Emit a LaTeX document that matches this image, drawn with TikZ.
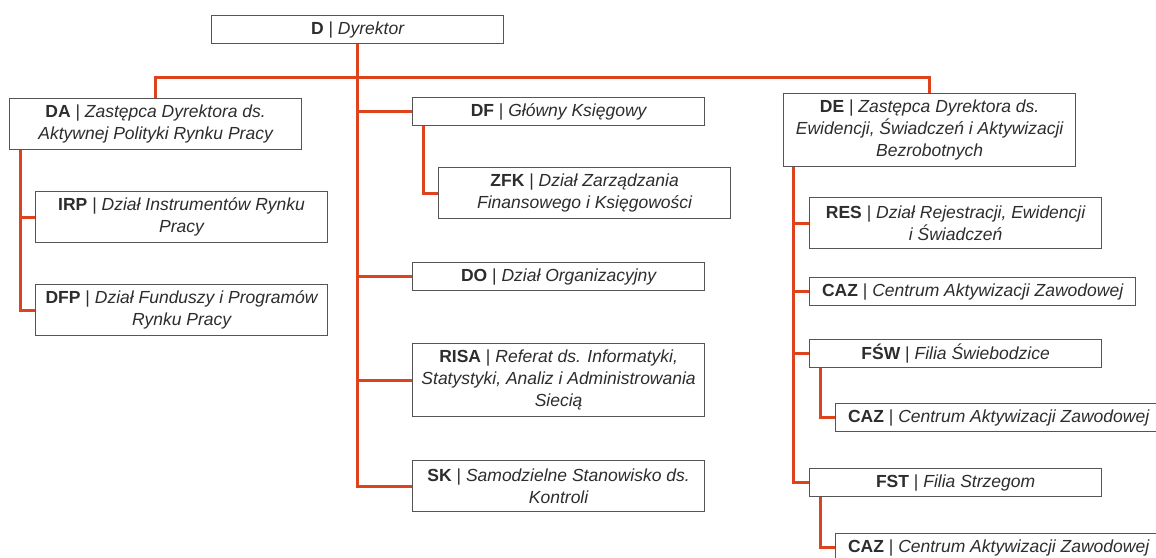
\documentclass[tikz,border=0pt]{standalone}
\usepackage{fontspec}
\setmainfont{Liberation Sans}
\definecolor{linkred}{RGB}{221,68,30}
\definecolor{boxgray}{RGB}{85,85,85}
\definecolor{textgray}{RGB}{45,45,45}
\newcommand{\unitcode}[1]{{\upshape\bfseries #1} {\upshape|} }

\begin{document}
\begin{tikzpicture}[x=1pt, y=-1pt, every node/.style = {shape=rectangle, draw=boxgray, line width=1.2pt, fill=white, align=center, anchor=north west, inner sep=2pt, text=textgray, font=\fontsize{17.5}{22}\selectfont\itshape, minimum width=292pt, minimum height=28pt}, two/.style={minimum height=51pt}, three/.style={minimum height=73pt}, wide/.style={minimum width=326pt}, link/.style={draw=linkred, line width=3pt}]
            \useasboundingbox (0,0) rectangle (1156,557);
            \node (D) at (211,15) {\unitcode{D}Dyrektor};
            \node[two] (DA) at (9,98) {\unitcode{DA}Zastępca Dyrektora ds.\\Aktywnej Polityki Rynku Pracy};
                \node[two] (IRP) at (35,191) {\unitcode{IRP}Dział Instrumentów Rynku\\Pracy};
                \node[two] (DFP) at (35,284) {\unitcode{DFP}Dział Funduszy i Programów\\Rynku Pracy};
            \node (DF) at (412,97) {\unitcode{DF}Główny Księgowy};
                \node[two] (ZFK) at (438,167) {\unitcode{ZFK}Dział Zarządzania\\Finansowego i Księgowości};
            \node (DO) at (412,262) {\unitcode{DO}Dział Organizacyjny};
            \node[three] (RISA) at (412,343) {\unitcode{RISA}Referat ds. Informatyki,\\Statystyki, Analiz i Administrowania\\Siecią};
            \node[two] (SK) at (412,460) {\unitcode{SK}Samodzielne Stanowisko ds.\\Kontroli};
            \node[three] (DE) at (783,93) {\unitcode{DE}Zastępca Dyrektora ds.\\Ewidencji, Świadczeń i Aktywizacji\\Bezrobotnych};
                \node[two] (RES) at (809,197) {\unitcode{RES}Dział Rejestracji, Ewidencji\\i Świadczeń};
                \node[wide] (CAZa) at (809,277) {\unitcode{CAZ}Centrum Aktywizacji Zawodowej};
                \node (FSW) at (809,339) {\unitcode{FŚW}Filia Świebodzice};
                    \node[wide] (CAZb) at (835,403) {\unitcode{CAZ}Centrum Aktywizacji Zawodowej};
                \node (FST) at (809,468) {\unitcode{FST}Filia Strzegom};
                    \node[wide] (CAZc) at (835,533) {\unitcode{CAZ}Centrum Aktywizacji Zawodowej};
            \coordinate (DAspine) at ([xshift=11pt]DA.south west);
            \coordinate (DFspine) at ([xshift=11pt]DF.south west);
            \coordinate (DEspine) at ([xshift=10pt]DE.south west);
            \coordinate (FSWspine) at ([xshift=11pt]FSW.south west);
            \coordinate (FSTspine) at ([xshift=11pt]FST.south west);
            \draw[link] (D.south) -- (D.south |- SK.west) -- (SK.west);
            \foreach \n in {DF,DO,RISA} \draw[link] (D.south |- \n.west) -- (\n.west);
            \draw[link] (DA.north) -- ++(0,-21) -| (DE.north);
            \draw[link] (DAspine) |- (DFP.west);
            \draw[link] (DAspine |- IRP.west) -- (IRP.west);
            \draw[link] (DFspine) |- (ZFK.west);
            \draw[link] (DEspine) |- (FST.west);
            \foreach \n in {RES,CAZa,FSW} \draw[link] (DEspine |- \n.west) -- (\n.west);
            \draw[link] (FSWspine) |- (CAZb.west);
            \draw[link] (FSTspine) |- (CAZc.west);
        \end{tikzpicture}
\end{document}
